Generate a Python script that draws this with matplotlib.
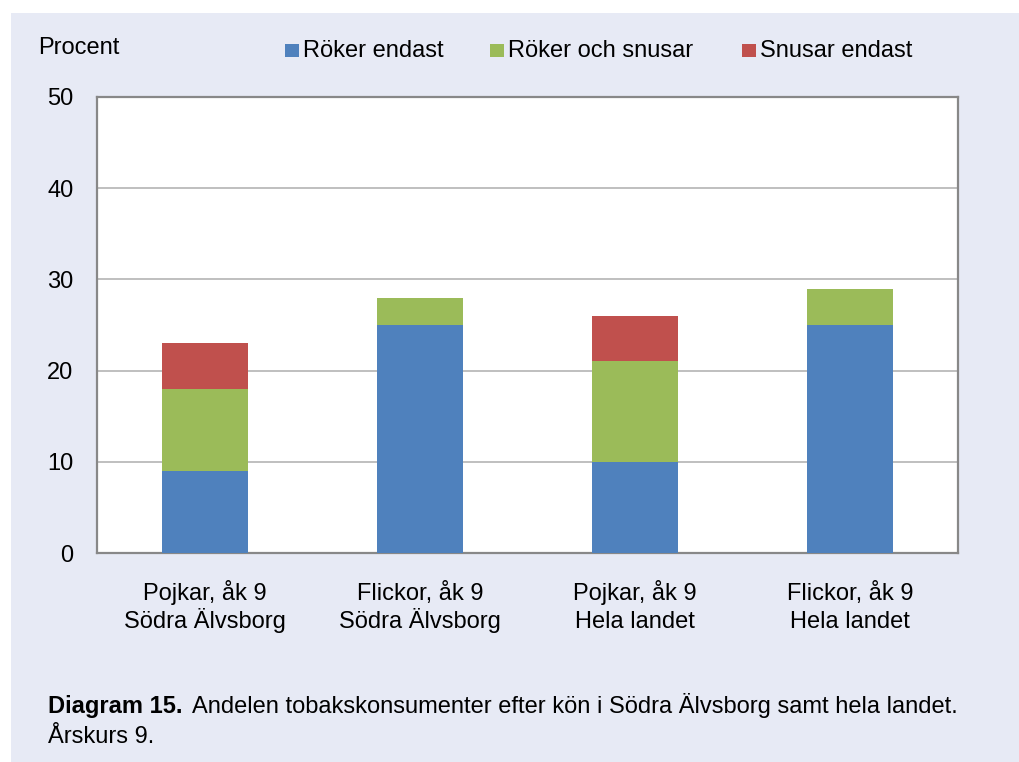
import matplotlib
matplotlib.use("Agg")
import matplotlib.pyplot as plt
from matplotlib.patches import Rectangle
from matplotlib.transforms import blended_transform_factory
import numpy as np

categories = ["Pojkar, åk 9\nSödra Älvsborg", "Flickor, åk 9\nSödra Älvsborg",
              "Pojkar, åk 9\nHela landet", "Flickor, åk 9\nHela landet"]
series_names = ["Röker endast", "Röker och snusar", "Snusar endast"]
roker_endast = [9, 25, 10, 25]
roker_och_snusar = [9, 3, 11, 4]
snusar_endast = [5, 0, 5, 0]
yticks = [0, 10, 20, 30, 40, 50]

colors = ["#4F81BD", "#9BBB59", "#C0504D"]
plt.rcParams['font.family'] = ['Liberation Sans', 'DejaVu Sans']
FS = 17

W, H = 1019, 762
fig = plt.figure(figsize=(W / 100, H / 100), dpi=100, facecolor="white")
bg = "#E7EAF5"
fig.patches.append(Rectangle((11 / W, 0), 1 - 11 / W, 1 - 13 / H, transform=fig.transFigure,
                             facecolor=bg, edgecolor="none", zorder=-10))


def fx(px):
    return px / W


def fy(py):
    return 1 - py / H


ax = fig.add_axes([fx(97), fy(553), (958 - 97) / W, (553 - 97) / H])
ax.set_facecolor("white")
x = np.arange(len(categories))
bottom = np.zeros(len(categories))
for vals, c, name in zip([roker_endast, roker_och_snusar, snusar_endast], colors, series_names):
    ax.bar(x, vals, width=0.4, bottom=bottom, color=c, label=name, zorder=3)
    bottom += np.array(vals)

ax.set_xlim(-0.5, len(categories) - 0.5)
ax.set_ylim(0, 50)
ax.set_yticks(yticks)
ax.set_yticklabels([str(v) for v in yticks], fontsize=FS)
ax.set_xticks(x)
ax.set_xticklabels([])
ax.tick_params(axis="both", length=0)
ax.tick_params(axis="y", pad=17)
ax.yaxis.grid(True, color="#BFBFBF", linewidth=1.4, zorder=0)
ax.set_axisbelow(True)
for s in ax.spines.values():
    s.set_color("#888888")
    s.set_linewidth(1.6)

# category labels, two lines each, baseline-aligned
trans = blended_transform_factory(ax.transData, fig.transFigure)
for xi, lab in zip(x, categories):
    l1, l2 = lab.split("\n")
    ax.text(xi, fy(600), l1, transform=trans, ha="center", va="baseline", fontsize=FS)
    ax.text(xi, fy(628), l2, transform=trans, ha="center", va="baseline", fontsize=FS)

fig.text(fx(38), fy(54), "Procent", fontsize=FS, va="baseline", ha="left")

# legend
leg_sq_x = [285, 490, 742]
for sx, c, name in zip(leg_sq_x, colors, series_names):
    fig.patches.append(Rectangle((fx(sx), fy(57)), 13.5 / W, 13.5 / H, transform=fig.transFigure,
                                 facecolor=c, edgecolor="none"))
    fig.text(fx(sx + 18), fy(57), name, fontsize=FS, va="baseline", ha="left")

fig.text(fx(48), fy(713), "Diagram 15.", fontsize=FS, va="baseline", ha="left", fontweight="bold")
fig.text(fx(192), fy(713), "Andelen tobakskonsumenter efter kön i Södra Älvsborg samt hela landet.",
         fontsize=FS, va="baseline", ha="left")
fig.text(fx(48), fy(743), "Årskurs 9.", fontsize=FS, va="baseline", ha="left")

fig.savefig("out.png", dpi=100, facecolor="white")
